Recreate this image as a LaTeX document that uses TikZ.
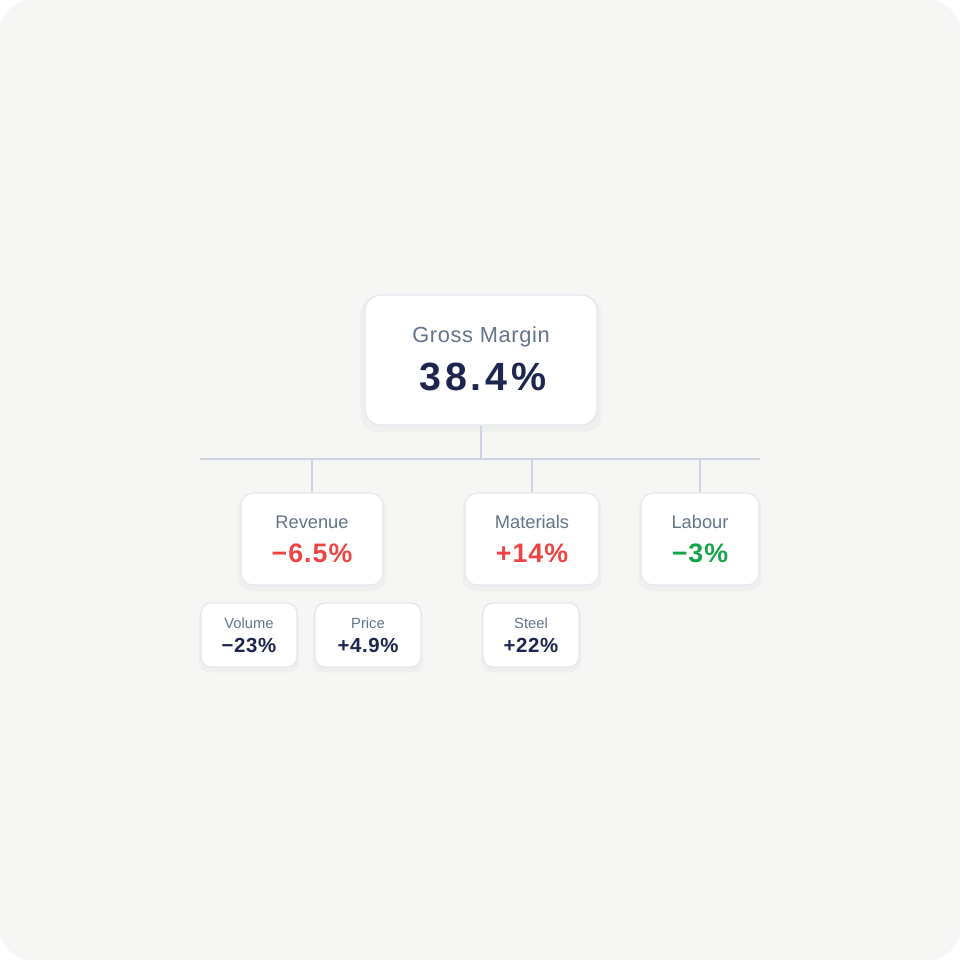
\documentclass[tikz,border=0pt]{standalone}
\usepackage{fontspec}
\setmainfont{Liberation Sans}
\usetikzlibrary{shadows}
\definecolor{bgpage}{HTML}{F6F6F4}
\definecolor{slate}{HTML}{64748B}
\definecolor{navy}{HTML}{1E2650}
\definecolor{redv}{HTML}{EF4444}
\definecolor{greenv}{HTML}{16A34A}
\definecolor{wire}{HTML}{CBD5E1}
\definecolor{rim}{HTML}{E2E8F0}

\begin{document}
\begin{tikzpicture}[x=0.025cm, y=-0.025cm]
	\tikzset{card/.style={draw=rim, line width=0.9pt, fill=white, inner sep=0pt,
		rounded corners=0.3cm, drop shadow={opacity=0.05, shadow xshift=0pt, shadow yshift=-3pt, shadow scale=1.04}},
		wire/.style={draw=wire, line width=1.1pt},
		ttl/.style={anchor=base, inner sep=0pt, text=slate},
		val/.style={anchor=base, inner sep=0pt, text=navy, font=\bfseries}};
	% page
	\useasboundingbox (0,0) rectangle (960,960);
	\fill[white] (0,0) rectangle (960,960);
	\fill[bgpage, rounded corners=0.8cm] (0,0) rectangle (960,960);

	% top card
	\node[card, rounded corners=0.4cm, minimum width=5.8cm, minimum height=3.25cm] (gm) at (481,360) {};
	\node[ttl, font=\fontsize{15.5}{18}\selectfont\addfontfeatures{LetterSpace=3}] (gm-t) at (481,342) {Gross Margin};
	\node[val, font=\fontsize{28}{32}\selectfont\bfseries\addfontfeatures{LetterSpace=10}] (gm-v) at (483,390) {38.4\%};

	\coordinate (busL) at (200,459);
	\coordinate (busR) at (760,459);
	\draw[wire] (busL) -- (busR);
	\draw[wire] (gm.south) -- (gm.south |- busL);

	\foreach \x/\w/\nm/\ttl/\val/\col in {312/142/rev/Revenue/−6.5\%/redv,
	532/134/mat/Materials/+14\%/redv, 700/118/lab/Labour/−3\%/greenv}{
		\node[card, minimum width=\w*0.025cm, minimum height=2.3cm] (\nm) at (\x,539) {};
		\node[ttl, font=\fontsize{13}{16}\selectfont] (\nm-t) at (\x,528) {\ttl};
		\node[val, text=\col, font=\fontsize{19}{22}\selectfont\bfseries\addfontfeatures{LetterSpace=4}] (\nm-v) at (\x,562) {\val};
		\draw[wire] (\nm.north) -- (\nm.north |- busL);
	}

	\foreach \x/\w/\nm/\ttl/\val in {249/96/vol/Volume/−23\%,
	368/106/pri/Price/+4.9\%, 531/96/stl/Steel/+22\%}{
		\node[card, rounded corners=0.25cm, minimum width=\w*0.025cm, minimum height=1.6cm] (\nm) at (\x,635) {};
		\node[ttl, font=\fontsize{10.5}{12}\selectfont] (\nm-t) at (\x,628) {\ttl};
		\node[val, font=\fontsize{14.5}{17}\selectfont\bfseries\addfontfeatures{LetterSpace=3}] (\nm-v) at (\x,652) {\val};
	}
\end{tikzpicture}
\end{document}
